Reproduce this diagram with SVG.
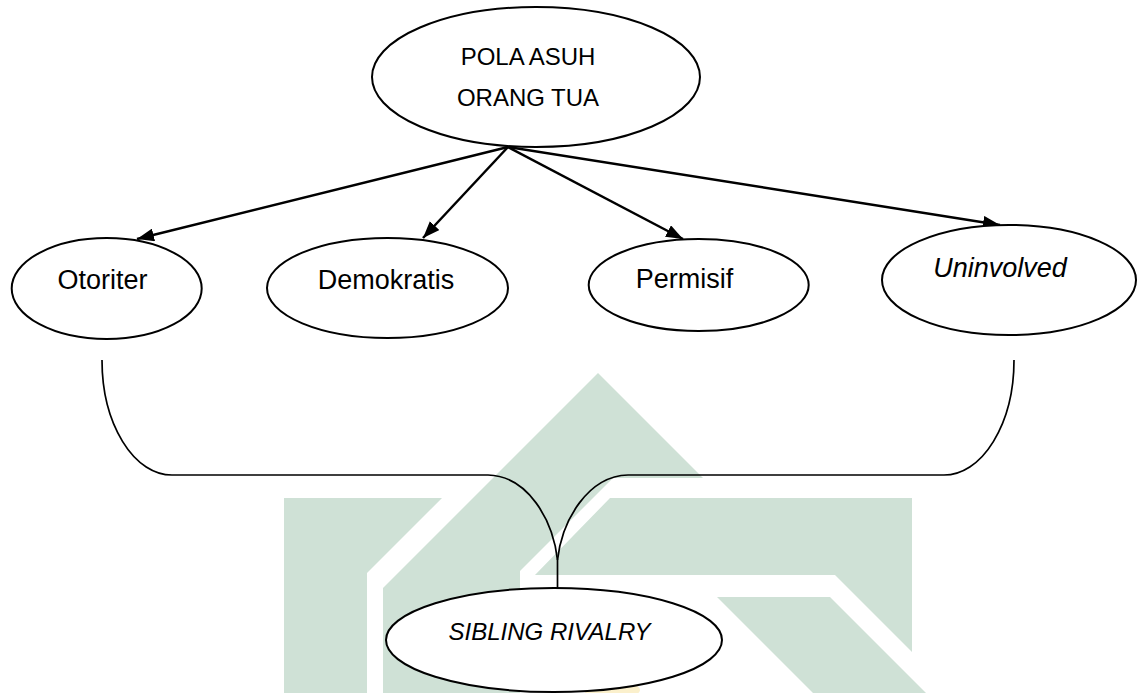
<svg xmlns="http://www.w3.org/2000/svg" width="1139" height="693" viewBox="0 0 1139 693">
  <style>
    .wm { fill: #cfe1d6; stroke: none; }
    .node ellipse { fill: #ffffff; stroke: #000000; stroke-width: 2; }
    .lbl { font-family: "Liberation Sans", Arial, sans-serif; fill: #000000; text-anchor: middle; }
    .caps { font-size: 24px; }
    .lc { font-size: 27px; }
    .it { font-style: italic; }
    .arrow { fill: none; stroke: #000000; stroke-width: 2.5; marker-end: url(#ah); }
    .brace { fill: none; stroke: #000000; stroke-width: 1.7; }
  </style>
  <defs>
    <marker id="ah" markerUnits="userSpaceOnUse" markerWidth="17" markerHeight="13" refX="17" refY="6.5" orient="auto">
      <path d="M0,0 L17,6.5 L0,13 Z" fill="#000000"/>
    </marker>
  </defs>
  <rect width="1139" height="693" fill="#ffffff"/>

  <g id="watermark">
    <polygon class="wm" points="284,498 442,498 367,573 367,693 284,693"/>
    <polygon class="wm" points="598,373 703,478 613,478 520,571 520,693 383,693 383,588"/>
    <polygon class="wm" points="610,498 912,498 912,652 835,575 535,575"/>
    <polygon class="wm" points="717,597 830,597 926,693 813,693"/>
    <ellipse cx="612" cy="690" rx="28" ry="9" fill="#fbf0cc"/>
  </g>

  <g id="connectors">
    <line class="arrow" x1="508" y1="147" x2="137" y2="239"/>
    <line class="arrow" x1="508" y1="147" x2="423" y2="238"/>
    <line class="arrow" x1="508" y1="147" x2="683" y2="239"/>
    <line class="arrow" x1="508" y1="147" x2="1000" y2="225"/>
    <path class="brace" d="M102,360 A70,115 0 0 0 172,475 L488,475 C528,476 553,520 557.5,560 L557.5,588"/>
    <path class="brace" d="M1014,360 A70,115 0 0 1 944,475 L628,475 C588,476 562,520 557.5,560"/>
  </g>

  <g id="node-pola-asuh" class="node">
    <ellipse cx="536" cy="77" rx="164" ry="70"/>
    <text class="lbl caps" x="528" y="65">POLA ASUH</text>
    <text class="lbl caps" x="528" y="106">ORANG TUA</text>
  </g>
  <g id="node-otoriter" class="node">
    <ellipse cx="106.7" cy="288.5" rx="95" ry="50.5"/>
    <text class="lbl lc" x="102.5" y="289">Otoriter</text>
  </g>
  <g id="node-demokratis" class="node">
    <ellipse cx="387.5" cy="288" rx="120.5" ry="50"/>
    <text class="lbl lc" x="386" y="289">Demokratis</text>
  </g>
  <g id="node-permisif" class="node">
    <ellipse cx="698.7" cy="285" rx="110" ry="46"/>
    <text class="lbl lc" x="684.5" y="288">Permisif</text>
  </g>
  <g id="node-uninvolved" class="node">
    <ellipse cx="1009" cy="280" rx="127" ry="55"/>
    <text class="lbl lc it" x="1000" y="277">Uninvolved</text>
  </g>
  <g id="node-sibling-rivalry" class="node">
    <ellipse cx="554" cy="640" rx="168" ry="52"/>
    <text class="lbl caps it" x="549.5" y="640">SIBLING RIVALRY</text>
  </g>
</svg>
